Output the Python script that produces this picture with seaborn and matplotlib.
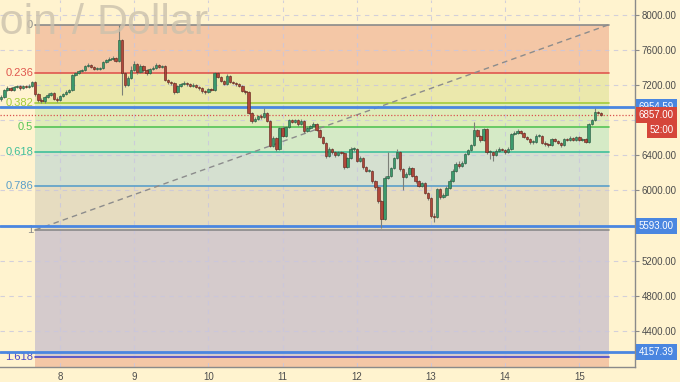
import matplotlib
matplotlib.use("Agg")
import matplotlib.pyplot as plt
import seaborn as sns
import pandas as pd

# hourly BTC/USD candles, first candle = day 7 05:00
first_hour = 5
open_first = 7040
close = [7065, 7145, 7168, 7145, 7179, 7191, 7168, 7191, 7179, 7191, 7236,
         7099, 7031, 7020, 7065, 7088, 7111, 7043, 7031,
         7077, 7099, 7122, 7145, 7316, 7339, 7362, 7373, 7419, 7430, 7407, 7384,
         7384, 7396, 7464, 7487, 7498, 7510, 7476, 7715, 7339, 7202, 7282, 7373,
         7441, 7350, 7419, 7373, 7339, 7384, 7396, 7430, 7407, 7419, 7259, 7236,
         7225, 7122, 7191, 7213, 7225, 7213, 7191, 7202, 7179, 7168, 7134, 7122,
         7156, 7145, 7339, 7293, 7248, 7213, 7305, 7236, 7225, 7213, 7191, 7134,
         7122, 6883, 6792, 6814, 6849, 6837, 6883, 6792, 6507, 6598, 6472, 6712,
         6621, 6723, 6803, 6780, 6803, 6757, 6792, 6678, 6712, 6735, 6757, 6689,
         6609, 6541, 6393, 6472, 6438, 6404, 6438, 6427, 6267, 6370, 6472, 6472,
         6336, 6370, 6267, 6222, 6222, 6108, 6039, 5880, 5674, 6142, 6165, 6256,
         6370, 6438, 6244, 6153, 6187, 6256, 6165, 6108, 6051, 6085, 5971, 5914,
         5709, 5697, 6016, 5925, 5948, 6028, 6108, 6222, 6301, 6279, 6313, 6415,
         6461, 6518, 6689, 6621, 6575, 6700, 6438, 6438, 6404, 6450, 6472, 6461,
         6438, 6472, 6643, 6655, 6678, 6655, 6609, 6586, 6552, 6552, 6621, 6621,
         6541, 6529, 6518, 6586, 6564, 6541, 6518, 6586, 6575, 6598, 6575, 6609,
         6575, 6586, 6552, 6757, 6803, 6894, 6883, 6857]
high = [7090, 7160, 7185, 7180, 7195, 7205, 7200, 7205, 7200, 7210, 7250,
        7245, 7110, 7050, 7075, 7110, 7125, 7120, 7060,
        7090, 7115, 7140, 7160, 7330, 7355, 7375, 7390, 7435, 7450, 7440, 7420,
        7405, 7410, 7480, 7500, 7520, 7530, 7520, 7890, 7725, 7350, 7300, 7420,
        7470, 7455, 7440, 7430, 7385, 7400, 7420, 7450, 7440, 7435, 7425, 7270,
        7250, 7235, 7205, 7230, 7245, 7240, 7225, 7220, 7215, 7190, 7175, 7150,
        7170, 7170, 7355, 7350, 7305, 7260, 7325, 7315, 7250, 7240, 7225, 7200,
        7150, 7130, 6895, 6835, 6865, 6870, 6935, 6895, 6800, 6620, 6610, 6725,
        6730, 6740, 6815, 6820, 6820, 6815, 6810, 6800, 6730, 6750, 6775, 6770,
        6700, 6620, 6550, 6490, 6485, 6450, 6455, 6450, 6435, 6385, 6490, 6495,
        6480, 6390, 6380, 6280, 6240, 6230, 6120, 6050, 5890, 6160, 6438, 6270,
        6385, 6470, 6445, 6255, 6205, 6275, 6265, 6175, 6120, 6100, 6095, 5985,
        5925, 5740, 6030, 6030, 5965, 6045, 6125, 6240, 6320, 6330, 6330, 6430,
        6475, 6535, 6780, 6700, 6635, 6715, 6710, 6460, 6450, 6470, 6490, 6485,
        6475, 6490, 6660, 6675, 6700, 6690, 6665, 6620, 6600, 6575, 6640, 6640,
        6630, 6560, 6545, 6600, 6600, 6575, 6555, 6600, 6600, 6615, 6610, 6625,
        6620, 6600, 6595, 6770, 6820, 6945, 6910, 6895]
low = [7020, 7055, 7130, 7130, 7135, 7165, 7150, 7160, 7165, 7170, 7180,
       7080, 7010, 6995, 7000, 7050, 7075, 7030, 7010,
       7020, 7065, 7090, 7110, 7135, 7300, 7325, 7345, 7365, 7405, 7395, 7370,
       7370, 7375, 7385, 7455, 7475, 7485, 7460, 7465, 7090, 7180, 7190, 7270,
       7360, 7330, 7340, 7355, 7320, 7330, 7370, 7385, 7395, 7395, 7245, 7215,
       7200, 7100, 7110, 7180, 7200, 7195, 7175, 7180, 7165, 7150, 7115, 7100,
       7110, 7130, 7135, 7280, 7235, 7200, 7205, 7220, 7210, 7195, 7175, 7120,
       7105, 6870, 6770, 6780, 6800, 6820, 6825, 6775, 6490, 6495, 6455, 6460,
       6605, 6610, 6715, 6765, 6770, 6740, 6745, 6660, 6665, 6700, 6725, 6675,
       6595, 6525, 6375, 6380, 6420, 6385, 6395, 6410, 6250, 6255, 6360, 6455,
       6320, 6320, 6250, 6205, 6205, 6090, 6020, 5860, 5572, 5665, 6130, 6150,
       6245, 6360, 6225, 6000, 6140, 6175, 6150, 6090, 6035, 6040, 5955, 5895,
       5690, 5640, 5685, 5905, 5910, 5935, 6015, 6095, 6210, 6260, 6265, 6300,
       6400, 6450, 6505, 6605, 6555, 6565, 6420, 6360, 6340, 6390, 6435, 6445,
       6420, 6425, 6460, 6630, 6640, 6640, 6595, 6570, 6535, 6535, 6545, 6605,
       6525, 6510, 6500, 6505, 6550, 6525, 6500, 6505, 6560, 6565, 6560, 6565,
       6560, 6565, 6540, 6545, 6745, 6795, 6870, 6850]

day_ticks = [24, 48, 72, 96, 120, 144, 168, 192]
day_labels = ["8", "9", "10", "11", "12", "13", "14", "15"]
price_ticks = [4400, 4800, 5200, 5600, 6000, 6400, 6800, 7200, 7600, 8000]

# fibonacci retracement drawn from (hour 16, 5549) to (hour 201.5, 7889)
fib_hours = [16, 201.5]
fib_prices = [5549, 7889]
fib_levels = [0, 0.236, 0.382, 0.5, 0.618, 0.786, 1, 1.618]
fib_names = ["0", "0.236", "0.382", "0.5", "0.618", "0.786", "1", "1.618"]
fib_line_colors = ["#8a8a8a", "#e0574f", "#a5cc3a", "#55c455", "#3fbf9a",
                   "#5a9fc9", "#8a8a8a", "#4848c8"]
fib_fill_colors = ["#f4c7a6", "#ebe8ac", "#dfecb9", "#d5eac6", "#d5e0d0",
                   "#e6dcc0", "#d5cbcc", "#f4c7a6"]

level_lines = [6954.59, 5593.00, 4157.39]
last_price = 6857.00
countdown = "52:00"

df = pd.DataFrame({"close": close, "high": high, "low": low})
df["hour"] = range(first_hour, first_hour + len(df))
df["open"] = [open_first] + close[:-1]
df["up"] = df["close"] >= df["open"]

sns.set_theme(style="white", rc={"axes.facecolor": "#fff3cf",
                                 "figure.facecolor": "#fff3cf"})
plt.rcParams["font.family"] = ["Liberation Sans", "DejaVu Sans"]

fig = plt.figure(figsize=(6.8, 3.82), dpi=100)
ax = fig.add_axes([0, 15 / 382, 635 / 680, 367 / 382])
ax.set_xlim(4.6, 210)
ax.set_ylim(3987, 8171)

# watermark (symbol name, partly off the left edge)
wm = dict(va="baseline", fontsize=31, color="#cbc1ad", alpha=0.8, zorder=0)
fig.text(57 / 680, 1 - 34 / 382, "Bitcoin", ha="right", **wm)
fig.text(78 / 680, 1 - 34 / 382, "/", ha="center", **wm)
fig.text(209 / 680, 1 - 34 / 382, "Dollar", ha="right", **wm)

# fib fills and lines
top, bot = fib_prices[1], fib_prices[0]
lvl_price = [top - l * (top - bot) for l in fib_levels]
fill_edges = lvl_price + [3987]
for i, col in enumerate(fib_fill_colors):
    ax.fill_between(fib_hours, fill_edges[i + 1], fill_edges[i], color=col,
                    lw=0, zorder=0.2)
for p, name, col in zip(lvl_price, fib_names, fib_line_colors):
    ax.plot(fib_hours, [p, p], color=col, lw=1.2, zorder=1)
    ax.text(15.3, p, name, ha="right", va="center", fontsize=8, color=col, zorder=1)

sns.lineplot(x=fib_hours, y=fib_prices, ax=ax, color="#8c8c8c", lw=1,
             linestyle=(0, (4, 3)), zorder=1.2)

# grid
ax.set_xticks(day_ticks)
ax.set_xticklabels(day_labels)
ax.set_yticks(price_ticks)
ax.set_yticklabels([f"{v:.2f}" if v not in (5600, 6800) else "" for v in price_ticks])
ax.grid(True, color="#c9c6de", lw=0.8, linestyle=(0, (4, 4)), alpha=0.8)
ax.set_axisbelow(True)

# horizontal levels
for lv in level_lines:
    ax.axhline(lv, color="#4a86e0", lw=2, zorder=1.5)
ax.axhline(last_price, color="#d9534f", lw=0.9, linestyle=(0, (1, 1.5)), zorder=1.5)

# candles
for is_up, face, edge in [(True, "#3c9a6c", "#23553c"), (False, "#b0473a", "#5e1f17")]:
    d = df[df["up"] == is_up]
    ax.vlines(d["hour"], d["low"], d["high"], color="#7c8078", lw=0.8, zorder=2)
    body_low = d[["open", "close"]].min(axis=1)
    body_h = (d["close"] - d["open"]).abs().clip(lower=8)
    ax.bar(d["hour"], body_h, bottom=body_low, width=0.78, color=face,
           edgecolor=edge, linewidth=0.4, zorder=3)

# axes look
for s in ["top", "left"]:
    ax.spines[s].set_visible(False)
for s in ["right", "bottom"]:
    ax.spines[s].set_color("#8a8a8a")
    ax.spines[s].set_linewidth(1)
ax.yaxis.tick_right()
ax.tick_params(axis="both", length=3, width=0.8, color="#8a8a8a",
               labelsize=7, labelcolor="#4d4d4d", pad=2, direction="out")
ax.tick_params(axis="x", pad=0.5)

# price labels on the scale
for lv in level_lines:
    ax.text(1.006, lv, f"{lv:.2f}", transform=ax.get_yaxis_transform(),
            ha="left", va="center", fontsize=7, color="white", zorder=5,
            clip_on=False,
            bbox=dict(boxstyle="square,pad=0.3", fc="#4a86e0", ec="none"))
ax.text(1.006, last_price, f"{last_price:.2f}", transform=ax.get_yaxis_transform(),
        ha="left", va="center", fontsize=7, color="white", zorder=5, clip_on=False,
        bbox=dict(boxstyle="square,pad=0.3", fc="#d5463a", ec="none"))
ax.annotate(countdown, xy=(1, last_price), xycoords=("axes fraction", "data"),
            xytext=(15, -15), textcoords="offset pixels", ha="left", va="center",
            fontsize=7, color="white", zorder=5, annotation_clip=False,
            bbox=dict(boxstyle="square,pad=0.3", fc="#d5463a", ec="none"))

fig.savefig("out.png", dpi=100, facecolor="#fff3cf")
